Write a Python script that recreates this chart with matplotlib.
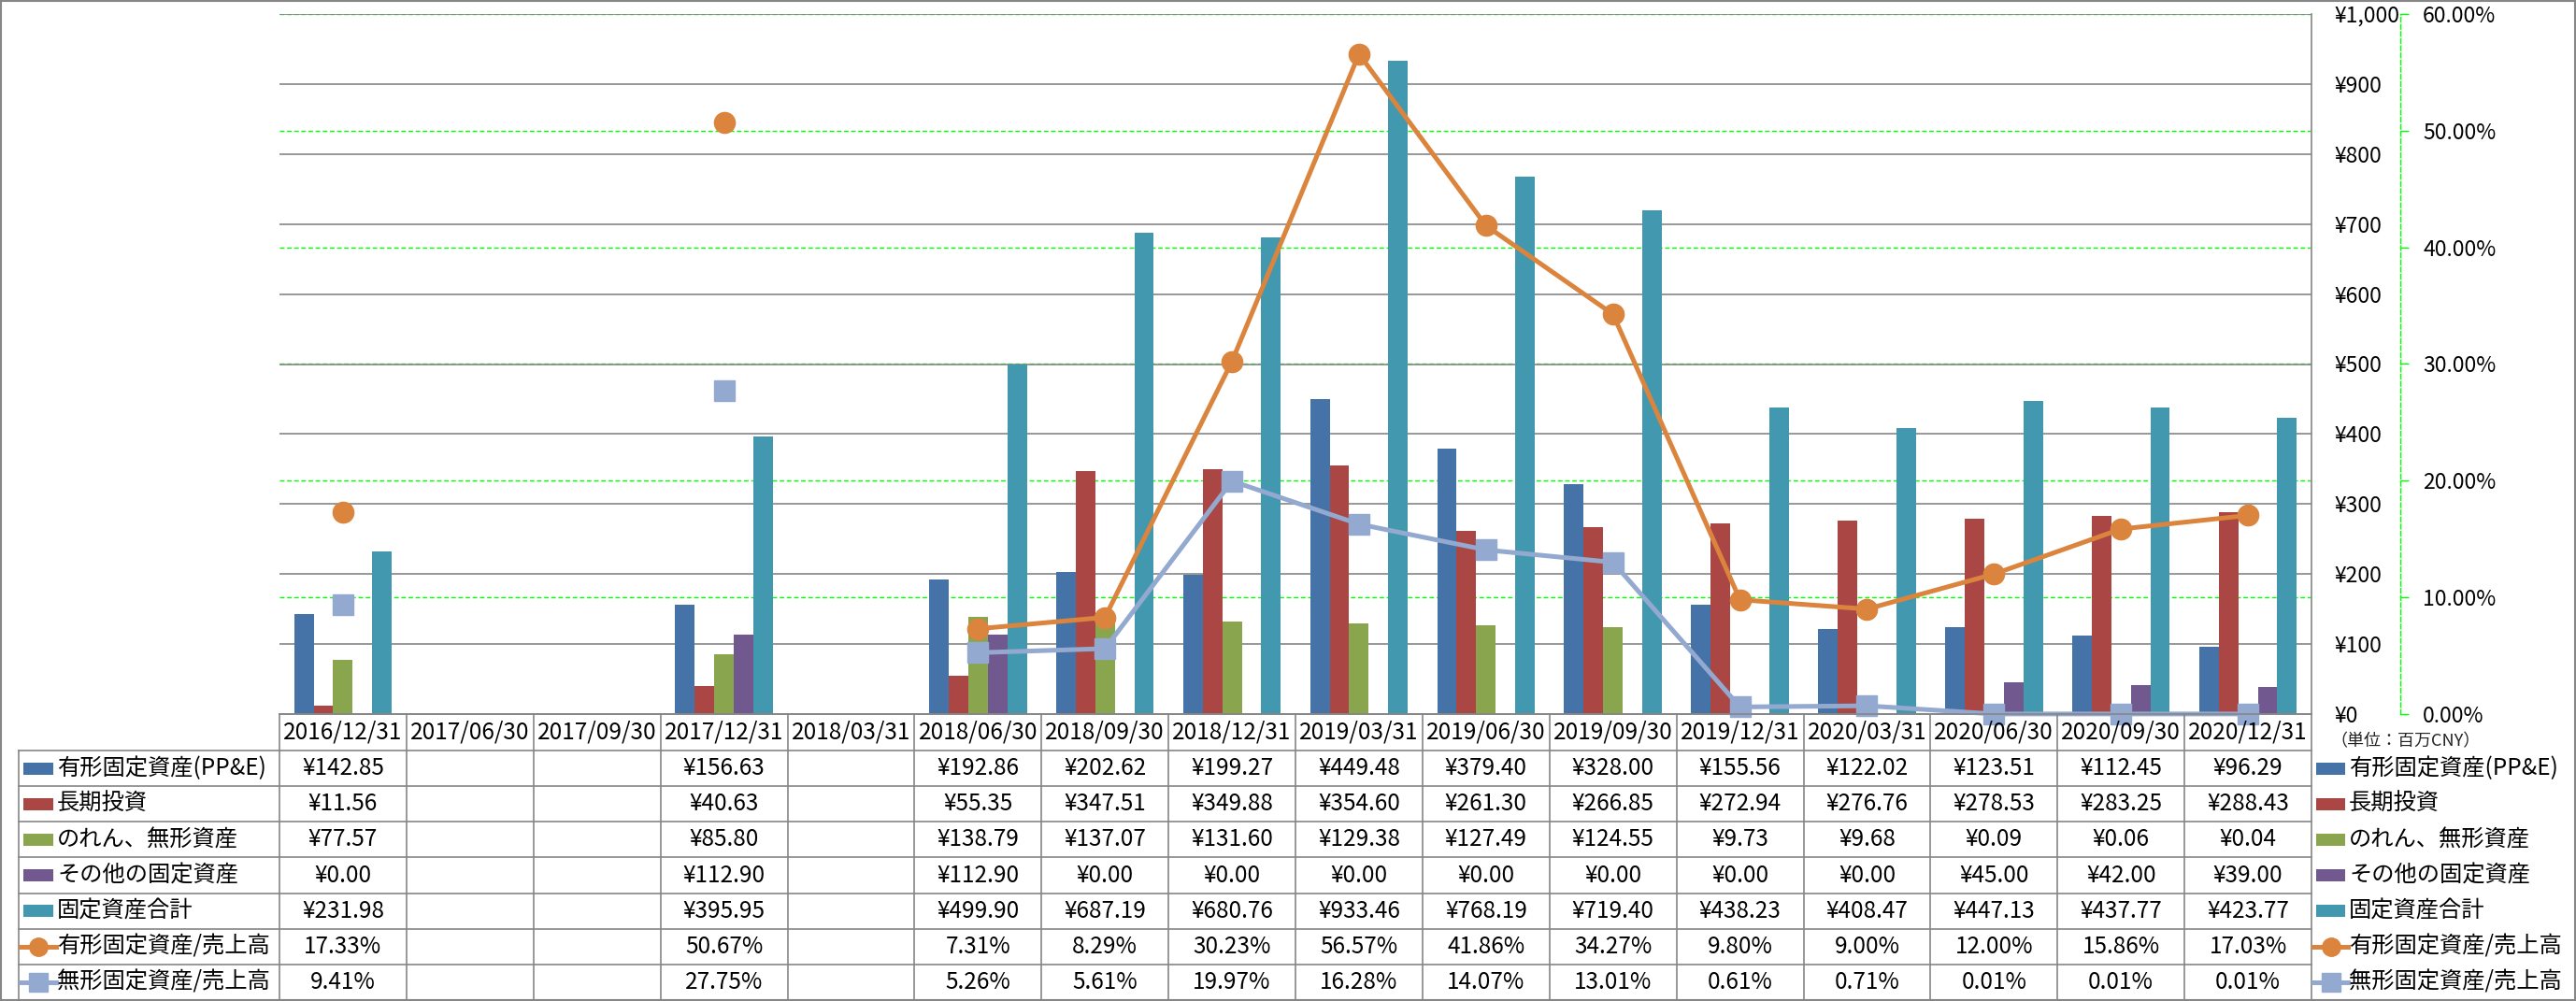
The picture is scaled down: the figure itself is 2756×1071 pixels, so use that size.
import matplotlib
matplotlib.use('Agg')
import matplotlib.pyplot as plt
import numpy as np
from matplotlib.patches import Rectangle
from matplotlib.ticker import FuncFormatter, MultipleLocator

plt.rcParams['font.family'] = ['Noto Sans CJK JP', 'DejaVu Sans']

nan = np.nan
dates = ['2016/12/31', '2017/06/30', '2017/09/30', '2017/12/31', '2018/03/31',
         '2018/06/30', '2018/09/30', '2018/12/31', '2019/03/31', '2019/06/30',
         '2019/09/30', '2019/12/31', '2020/03/31', '2020/06/30', '2020/09/30',
         '2020/12/31']
ppe = [142.85, nan, nan, 156.63, nan, 192.86, 202.62, 199.27, 449.48, 379.40,
       328.00, 155.56, 122.02, 123.51, 112.45, 96.29]
lt_invest = [11.56, nan, nan, 40.63, nan, 55.35, 347.51, 349.88, 354.60, 261.30,
             266.85, 272.94, 276.76, 278.53, 283.25, 288.43]
goodwill = [77.57, nan, nan, 85.80, nan, 138.79, 137.07, 131.60, 129.38, 127.49,
            124.55, 9.73, 9.68, 0.09, 0.06, 0.04]
other_fixed = [0.00, nan, nan, 112.90, nan, 112.90, 0.00, 0.00, 0.00, 0.00,
               0.00, 0.00, 0.00, 45.00, 42.00, 39.00]
total_fixed = [231.98, nan, nan, 395.95, nan, 499.90, 687.19, 680.76, 933.46, 768.19,
               719.40, 438.23, 408.47, 447.13, 437.77, 423.77]
ppe_sales = [17.33, nan, nan, 50.67, nan, 7.31, 8.29, 30.23, 56.57, 41.86,
             34.27, 9.80, 9.00, 12.00, 15.86, 17.03]
intang_sales = [9.41, nan, nan, 27.75, nan, 5.26, 5.61, 19.97, 16.28, 14.07,
                13.01, 0.61, 0.71, 0.01, 0.01, 0.01]

bar_names = ['有形固定資産(PP&E)', '長期投資', 'のれん、無形資産', 'その他の固定資産', '固定資産合計']
line_names = ['有形固定資産/売上高', '無形固定資産/売上高']
bar_colors = ['#4572A7', '#AA4643', '#89A54E', '#71588F', '#4198AF']
line_colors = ['#DB843D', '#93A9CF']
line_markers = ['o', 's']
unit_label = '（単位：百万CNY）'

bar_series = [ppe, lt_invest, goodwill, other_fixed, total_fixed]
line_series = [ppe_sales, intang_sales]

W, H = 2756, 1071
fig = plt.figure(figsize=(W / 100, H / 100), dpi=100)
fig.patch.set_facecolor('white')

L, R, T, B = 299, 2473, 15, 764
rect = [L / W, 1 - B / H, (R - L) / W, (B - T) / H]
GRAY = '#868686'
GREEN = '#00FF00'
FS = 17.5

x = np.arange(len(dates))
xlim = (-0.5, len(dates) - 0.5)

# secondary (percent) axis: grid + spine, drawn below bars
ax2 = fig.add_axes(rect, zorder=1)
ax2.set_xlim(*xlim)
ax2.set_ylim(0, 0.6)
ax2.yaxis.set_major_locator(MultipleLocator(0.1))
ax2.yaxis.set_major_formatter(FuncFormatter(lambda v, p: f'{v * 100:.2f}%'))
ax2.yaxis.tick_right()
ax2.set_xticks([])
for s in ['left', 'top', 'bottom']:
    ax2.spines[s].set_visible(False)
ax2.spines['right'].set_position(('outward', 95 * 0.72))
ax2.spines['right'].set_color(GREEN)
ax2.spines['right'].set_linestyle((0, (3.5, 2)))
ax2.spines['right'].set_linewidth(1.0)
ax2.tick_params(axis='y', direction='out', length=6.5, width=1.0, color=GREEN,
                labelcolor='black', pad=10.8, labelsize=16.5)
ax2.yaxis.grid(True, color=GREEN, linestyle=(0, (3.5, 2)), linewidth=1.0)

# primary axis: bars
ax = fig.add_axes(rect, zorder=2)
ax.patch.set_visible(False)
ax.set_xlim(*xlim)
ax.set_ylim(0, 1000)
ax.yaxis.set_major_locator(MultipleLocator(100))
ax.yaxis.set_major_formatter(FuncFormatter(lambda v, p: f'¥{v:,.0f}'))
ax.yaxis.tick_right()
ax.tick_params(axis='y', length=0, pad=17.3, labelsize=16.5)
ax.set_xticks([])
ax.yaxis.grid(True, color=GRAY, linewidth=1.2)
ax.set_axisbelow(True)
for s in ['left', 'top']:
    ax.spines[s].set_visible(False)
ax.spines['right'].set_color(GRAY)
ax.spines['bottom'].set_color(GRAY)
ax.spines['right'].set_linewidth(1.2)
ax.spines['bottom'].set_linewidth(1.2)

bw = 1 / 6.5
for k, (vals, c) in enumerate(zip(bar_series, bar_colors)):
    ax.bar(x + (k - 2) * bw, vals, width=bw, color=c, linewidth=0)

# lines axis
ax3 = fig.add_axes(rect, zorder=3)
ax3.set_xlim(*xlim)
ax3.set_ylim(0, 0.6)
ax3.set_axis_off()
for vals, c, m in zip(line_series, line_colors, line_markers):
    v = np.array(vals) / 100
    ax3.plot(x, v, color=c, linewidth=3.6, marker=m, markersize=16,
             markerfacecolor=c, markeredgecolor=c, clip_on=False, zorder=3)

# table overlay in pixel coordinates
axt = fig.add_axes([0, 0, 1, 1], zorder=4)
axt.patch.set_visible(False)
axt.set_xlim(0, W)
axt.set_ylim(H, 0)
axt.set_axis_off()

fig.canvas.draw()
edges = [ax.transData.transform((xe, 0))[0] for xe in np.arange(len(dates) + 1) - 0.5]
centers = [ax.transData.transform((xc, 0))[0] for xc in x]

hdr_bot = 803
tab_bot = 1070
nrows = 7
rh = (tab_bot - hdr_bot) / nrows
row_edges = [hdr_bot + i * rh for i in range(nrows + 1)]
row_centers = [hdr_bot + (i + 0.5) * rh for i in range(nrows)]
LEG_L = 20
lw_t = 1.2

axt.plot([edges[0], edges[-1]], [B, B], color=GRAY, lw=lw_t)
for ye in row_edges:
    axt.plot([LEG_L, edges[-1]], [ye, ye], color=GRAY, lw=lw_t)
for xe in edges:
    axt.plot([xe, xe], [B, tab_bot], color=GRAY, lw=lw_t)
axt.plot([LEG_L, LEG_L], [hdr_bot, tab_bot], color=GRAY, lw=lw_t)

for xc, d in zip(centers, dates):
    axt.text(xc, (B + hdr_bot) / 2, d, ha='center', va='center', fontsize=FS)

all_rows = bar_series + line_series
for r, vals in enumerate(all_rows):
    for xc, v in zip(centers, vals):
        if np.isnan(v):
            continue
        s = f'¥{v:,.2f}' if r < 5 else f'{v:.2f}%'
        axt.text(xc, row_centers[r], s, ha='center', va='center', fontsize=FS)

names = bar_names + line_names
def legend_col(px0, px1, tx):
    for r, name in enumerate(names):
        yc = row_centers[r]
        if r < 5:
            axt.add_patch(Rectangle((px0, yc - 6.5), px1 - px0, 13,
                                    facecolor=bar_colors[r], edgecolor='none'))
        else:
            c = line_colors[r - 5]
            axt.plot([px0 - 3, px1 + 3], [yc, yc], color=c, lw=3.6)
            axt.plot([(px0 + px1) / 2], [yc], marker=line_markers[r - 5], color=c,
                     markersize=14)
        axt.text(tx, yc, name, ha='left', va='center', fontsize=FS)

legend_col(25, 57, 61)
legend_col(2478, 2509, 2513)

axt.text(2493, 793, unit_label, ha='left', va='center', fontsize=13, color='#222222')

axt.add_patch(Rectangle((0.5, 0.5), W - 1.5, H - 1.5, facecolor='none',
                        edgecolor=GRAY, lw=1.5))

fig.savefig('out.png', dpi=100, facecolor='white')
